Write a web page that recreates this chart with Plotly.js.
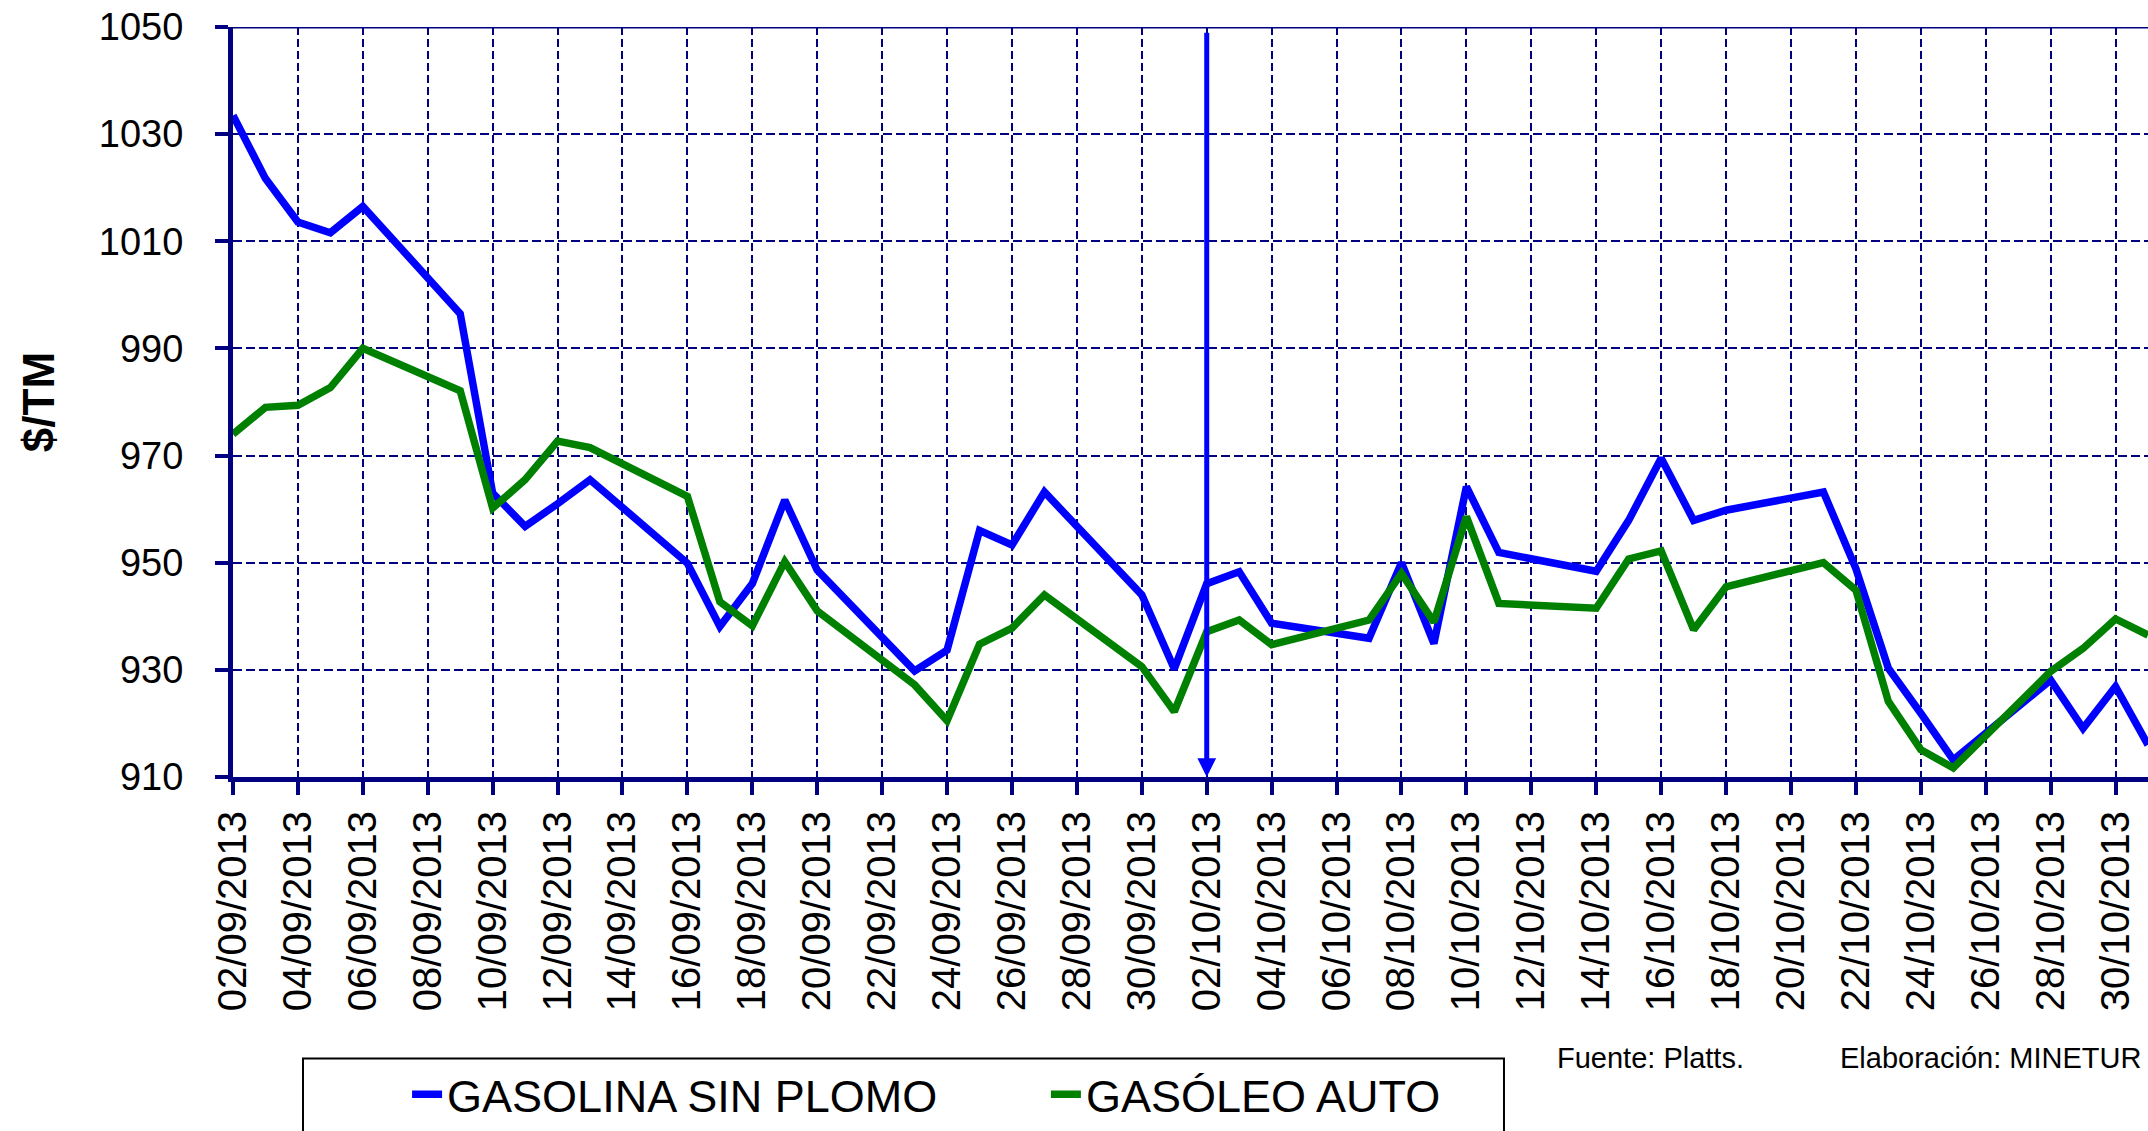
<!DOCTYPE html>
<html>
<head>
<meta charset="utf-8">
<script src="https://cdn.plot.ly/plotly-3.0.1.min.js"></script>
<style>
  html, body { margin: 0; padding: 0; background: #ffffff; }
  #chart { width: 2148px; height: 1131px; }
</style>
</head>
<body>
<div id="chart"></div>
<script>
// ---- Data ----
const dates = [
  '2013-09-02','2013-09-03','2013-09-04','2013-09-05','2013-09-06',
  '2013-09-09','2013-09-10','2013-09-11','2013-09-12','2013-09-13',
  '2013-09-16','2013-09-17','2013-09-18','2013-09-19','2013-09-20',
  '2013-09-23','2013-09-24','2013-09-25','2013-09-26','2013-09-27',
  '2013-09-30','2013-10-01','2013-10-02','2013-10-03','2013-10-04',
  '2013-10-07','2013-10-08','2013-10-09','2013-10-10','2013-10-11',
  '2013-10-14','2013-10-15','2013-10-16','2013-10-17','2013-10-18',
  '2013-10-21','2013-10-22','2013-10-23','2013-10-24','2013-10-25',
  '2013-10-28','2013-10-29','2013-10-30','2013-10-31'
];
const gasolinaSinPlomo = [
  1033.5, 1021.7, 1013.6, 1011.6, 1016.5,
  996.5, 963.0, 956.8, 961.0, 965.5,
  949.9, 938.1, 946.1, 961.7, 948.6,
  929.8, 933.7, 956.0, 953.3, 963.2,
  944.0, 930.2, 946.1, 948.3, 938.7,
  935.9, 950.0, 934.9, 964.2, 951.9,
  948.4, 957.9, 969.5, 957.9, 959.8,
  963.2, 948.9, 930.3, 921.9, 913.2,
  928.1, 919.1, 926.9, 916.0
];
const gasoleoAuto = [
  974.0, 979.0, 979.4, 982.7, 990.0,
  982.1, 960.2, 965.5, 972.7, 971.5,
  962.4, 942.7, 938.2, 950.2, 941.0,
  927.2, 920.5, 934.8, 937.8, 944.0,
  930.6, 922.2, 937.1, 939.3, 934.7,
  939.3, 948.0, 938.9, 958.6, 942.4,
  941.5, 950.7, 952.2, 937.5, 945.5,
  950.0, 944.9, 924.1, 915.1, 911.7,
  929.7, 934.0, 939.5, 936.5
];
const seriesNames = ['GASOLINA SIN PLOMO', 'GASÓLEO AUTO'];
const yAxisTitle = '$/TM';
const sourceText = 'Fuente: Platts.';
const authorText = 'Elaboración: MINETUR';
const xStart = '2013-09-02';
const xEnd = '2013-10-31';
const yMin = 910, yMax = 1050, yStep = 20;
const markerDate = '2013-10-02';
const markerTop = 1049.2;

// ---- Styling ----
const NAVY = '#000080';
const FONT = 'Liberation Sans, Arial, sans-serif';
const DAY = 86400000;

const traces = [
  {
    type: 'scatter', mode: 'lines', name: seriesNames[0],
    x: dates, y: gasolinaSinPlomo,
    line: { color: '#0000FF', width: 7.5 },
    legend: 'legend'
  },
  {
    type: 'scatter', mode: 'lines', name: seriesNames[1],
    x: dates, y: gasoleoAuto,
    line: { color: '#008000', width: 7.5 },
    legend: 'legend2'
  }
];

const legendCommon = {
  orientation: 'h',
  xanchor: 'left', yanchor: 'top',
  bgcolor: 'rgba(0,0,0,0)', borderwidth: 0,
  font: { family: FONT, size: 45, color: '#000000' }
};

const layout = {
  width: 2148, height: 1131,
  margin: { l: 233, r: 0, t: 27, b: 350, pad: 0 },
  paper_bgcolor: '#ffffff', plot_bgcolor: '#ffffff',
  showlegend: true,
  legend: Object.assign({ x: 0.0909, y: -0.3753 }, legendCommon),
  legend2: Object.assign({ x: 0.4245, y: -0.3753 }, legendCommon),
  xaxis: {
    type: 'date',
    range: [xStart, xEnd],
    tick0: xStart, dtick: 2 * DAY,
    tickformat: '%d/%m/%Y',
    tickangle: -90,
    tickfont: { family: FONT, size: 40, color: '#000000' },
    ticks: 'outside', ticklen: 13, tickwidth: 4, tickcolor: NAVY,
    showline: true, linecolor: NAVY, linewidth: 5,
    showgrid: true, gridcolor: NAVY, gridwidth: 2, griddash: '8px,4px',
    zeroline: false, fixedrange: true
  },
  yaxis: {
    range: [yMin, yMax],
    tick0: yMin, dtick: yStep,
    tickfont: { family: FONT, size: 38, color: '#000000' },
    ticks: 'outside', ticklen: 13, tickwidth: 4, tickcolor: NAVY,
    ticklabelstandoff: 24,
    showline: true, linecolor: NAVY, linewidth: 5,
    showgrid: true, gridcolor: NAVY, gridwidth: 2, griddash: '9px,4px',
    zeroline: false, fixedrange: true,
    title: {
      text: yAxisTitle,
      font: { family: FONT, size: 44, color: '#000000', weight: 'bold' },
      standoff: 32
    }
  },
  shapes: [
    { type: 'line', xref: 'paper', yref: 'y', x0: 0, x1: 1, y0: yMax, y1: yMax,
      line: { color: NAVY, width: 3 } },
    { type: 'rect', xref: 'paper', yref: 'paper',
      x0: 0.03655, x1: 0.6637, y0: -0.3753, y1: -0.50,
      line: { color: '#000000', width: 2 }, fillcolor: 'rgba(0,0,0,0)' }
  ],
  annotations: [
    { x: markerDate, y: yMin, ax: markerDate, ay: markerTop,
      xref: 'x', yref: 'y', axref: 'x', ayref: 'y',
      text: '', showarrow: true, arrowhead: 2, arrowsize: 0.75,
      arrowwidth: 5, arrowcolor: '#0000FF', standoff: 0, startstandoff: 0 },
    { x: 0.6903, y: -0.374, xref: 'paper', yref: 'paper',
      xanchor: 'left', yanchor: 'middle', showarrow: false,
      text: sourceText, font: { family: FONT, size: 29, color: '#000000' } },
    { x: 0.8381, y: -0.374, xref: 'paper', yref: 'paper',
      xanchor: 'left', yanchor: 'middle', showarrow: false,
      text: authorText, font: { family: FONT, size: 29, color: '#000000' } }
  ]
};

Plotly.newPlot('chart', traces, layout, { staticPlot: true, displayModeBar: false });
</script>
</body>
</html>
